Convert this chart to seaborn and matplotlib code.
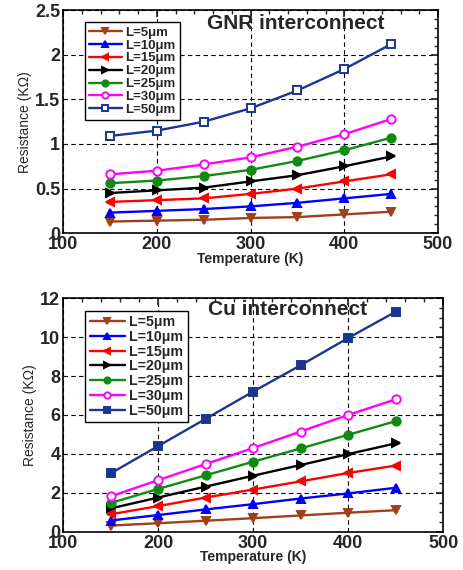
import matplotlib
matplotlib.use("Agg")
import matplotlib.pyplot as plt
import seaborn as sns
from matplotlib.ticker import MultipleLocator, FormatStrFormatter

temperatura = [150, 200, 250, 300, 350, 400, 450]
rotulos = ["L=5\u03bcm", "L=10\u03bcm", "L=15\u03bcm", "L=20\u03bcm",
           "L=25\u03bcm", "L=30\u03bcm", "L=50\u03bcm"]

# resistencia GNR (kOhm)
gnr_5 = [0.13, 0.14, 0.15, 0.17, 0.18, 0.21, 0.24]
gnr_10 = [0.23, 0.25, 0.27, 0.30, 0.34, 0.39, 0.44]
gnr_15 = [0.35, 0.37, 0.39, 0.44, 0.50, 0.58, 0.66]
gnr_20 = [0.45, 0.48, 0.51, 0.58, 0.65, 0.75, 0.86]
gnr_25 = [0.56, 0.59, 0.64, 0.71, 0.81, 0.93, 1.07]
gnr_30 = [0.66, 0.70, 0.77, 0.85, 0.97, 1.11, 1.28]
gnr_50 = [1.09, 1.15, 1.25, 1.40, 1.60, 1.84, 2.12]

# resistencia Cu (kOhm)
cu_5 = [0.32, 0.44, 0.57, 0.70, 0.84, 0.98, 1.11]
cu_10 = [0.58, 0.86, 1.15, 1.42, 1.71, 1.97, 2.26]
cu_15 = [0.90, 1.32, 1.76, 2.17, 2.59, 3.02, 3.40]
cu_20 = [1.20, 1.76, 2.32, 2.88, 3.43, 3.99, 4.54]
cu_25 = [1.48, 2.20, 2.90, 3.60, 4.28, 4.98, 5.68]
cu_30 = [1.82, 2.65, 3.48, 4.30, 5.15, 6.00, 6.80]
cu_50 = [3.00, 4.40, 5.80, 7.20, 8.55, 9.95, 11.30]

cores = ["#a0401a", "#0000ff", "#ff0000", "#000000", "#108a10", "#ff00ff", "#1a3690"]
marcadores = ["v", "^", "<", ">", "o", "o", "s"]
abertos = [False, False, False, False, False, True, False]


def plotar_painel(ax, series, titulo, ylim, ymaj, ymin, pos_titulo, quadrado_aberto, fs_leg, pos_leg):
    for i, vals in enumerate(series):
        mfc = "white" if abertos[i] or (quadrado_aberto and marcadores[i] == "s") else cores[i]
        sns.lineplot(x=temperatura, y=vals, ax=ax, color=cores[i], marker=marcadores[i],
                     markersize=6, linewidth=1.7, label=rotulos[i],
                     markerfacecolor=mfc, markeredgecolor=cores[i], markeredgewidth=1.4)
    ax.set_xlim(100, 500)
    ax.set_ylim(*ylim)
    ax.xaxis.set_major_locator(MultipleLocator(100))
    ax.xaxis.set_minor_locator(MultipleLocator(20))
    ax.yaxis.set_major_locator(MultipleLocator(ymaj))
    ax.yaxis.set_minor_locator(MultipleLocator(ymin))
    ax.yaxis.set_major_formatter(FormatStrFormatter("%g"))
    ax.tick_params(which="both", direction="in", top=True, right=True)
    ax.tick_params(which="major", length=5, labelsize=13, pad=2)
    ax.tick_params(which="minor", length=3)
    for lab in ax.get_xticklabels() + ax.get_yticklabels():
        lab.set_fontweight("bold")
    ax.grid(True, which="major", color="black", linestyle=(0, (4, 3)), linewidth=0.8)
    ax.set_xlabel("Temperature (K)", fontsize=10, fontweight="bold", labelpad=-1)
    ax.set_ylabel("Resistance (K\u03a9)", fontsize=10, labelpad=2)
    for s in ax.spines.values():
        s.set_color("black")
        s.set_linewidth(1.2)
    ax.text(pos_titulo[0], pos_titulo[1], titulo, transform=ax.transAxes,
            ha="center", va="center", fontsize=15, fontweight="bold")
    leg = ax.legend(loc="upper left", bbox_to_anchor=pos_leg,
                    prop={"weight": "bold", "size": fs_leg}, frameon=True, fancybox=False,
                    borderpad=0.3, labelspacing=0.05, handlelength=2.5, handletextpad=0.3,
                    markerscale=0.75)
    leg.get_frame().set_edgecolor("black")
    leg.get_frame().set_linewidth(1.0)
    leg.get_frame().set_alpha(1)


sns.set_theme(style="white")
plt.rcParams["font.family"] = ["Liberation Sans", "DejaVu Sans"]

fig = plt.figure(figsize=(4.64, 5.70), dpi=100)
ax1 = fig.add_axes([0.136, 0.591, 0.808, 0.391])
ax2 = fig.add_axes([0.136, 0.067, 0.819, 0.410])

plotar_painel(ax1, [gnr_5, gnr_10, gnr_15, gnr_20, gnr_25, gnr_30, gnr_50],
              "GNR interconnect", (0, 2.5), 0.5, 0.1, (0.62, 0.94), True, 9.5, (0.04, 0.975))
plotar_painel(ax2, [cu_5, cu_10, cu_15, cu_20, cu_25, cu_30, cu_50],
              "Cu interconnect", (0, 12), 2, 0.5, (0.59, 0.95), False, 10.2, (0.04, 0.975))

fig.savefig("out.png", dpi=100)
